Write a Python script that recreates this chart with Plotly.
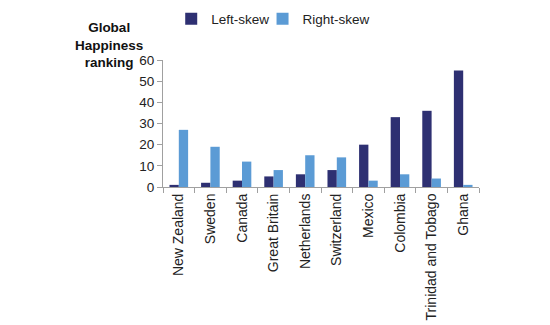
import plotly.graph_objects as go

countries = ["New Zealand", "Sweden", "Canada", "Great Britain", "Netherlands",
             "Switzerland", "Mexico", "Colombia", "Trinidad and Tobago", "Ghana"]
left_skew = [1, 2, 3, 5, 6, 8, 20, 33, 36, 55]
right_skew = [27, 19, 12, 8, 15, 14, 3, 6, 4, 1]
y_ticks = [0, 10, 20, 30, 40, 50, 60]

FONT = "Liberation Sans, Arial, sans-serif"

fig = go.Figure()
fig.add_trace(go.Bar(name="Left-skew", x=countries, y=left_skew, legend="legend",
                     marker=dict(color="#2E3072", line=dict(width=0))))
fig.add_trace(go.Bar(name="Right-skew", x=countries, y=right_skew, legend="legend2",
                     marker=dict(color="#5B9BD5", line=dict(width=0))))

legend_common = dict(orientation="h", xref="paper", y=1 - 19 / 325, yref="container",
                     xanchor="left", yanchor="middle",
                     font=dict(size=13.5, color="#222222"), itemwidth=30,
                     bgcolor="rgba(0,0,0,0)")

fig.update_layout(
    width=550, height=325,
    margin=dict(l=163, r=71, t=60, b=138, pad=0, autoexpand=False),
    paper_bgcolor="white", plot_bgcolor="white",
    font=dict(family=FONT, size=13, color="#222222"),
    barmode="group", bargap=0.41, bargroupgap=0,
    showlegend=True,
    legend=dict(x=0.026, **legend_common),
    legend2=dict(x=0.315, **legend_common),
    xaxis=dict(showline=True, linecolor="#A0A0A0", linewidth=1, automargin=False,
               ticks="outside", tickson="boundaries", ticklen=5, tickcolor="#A0A0A0",
               tickangle=-90, showgrid=False, tickfont=dict(size=14, color="#222222")),
    yaxis=dict(range=[0, 60], tickvals=y_ticks, showline=True, linecolor="#A0A0A0",
               linewidth=1, ticks="outside", ticklen=5, tickcolor="#A0A0A0", automargin=False,
               showgrid=False, zeroline=False, tickfont=dict(size=13.5, color="#222222")),
)

fig.add_annotation(text="<b>Global<br>Happiness<br>ranking</b>", xref="paper", yref="paper",
                   x=-0.171, y=1.118, xanchor="center", yanchor="middle", showarrow=False,
                   align="center", font=dict(size=13.5, color="#111111", family=FONT))

fig.write_html("out.html")
